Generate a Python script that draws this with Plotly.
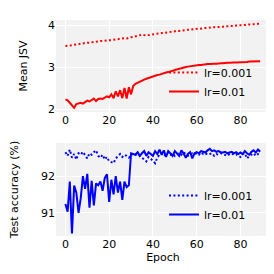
import plotly.graph_objects as go

epochs = list(range(90))

jsv_lr001 = [3.50, 3.50, 3.51, 3.52, 3.53, 3.54, 3.55, 3.55, 3.56, 3.57,
             3.58, 3.58, 3.59, 3.60, 3.60, 3.61, 3.62, 3.62, 3.63, 3.63,
             3.64, 3.64, 3.65, 3.66, 3.66, 3.67, 3.68, 3.69, 3.68, 3.70,
             3.71, 3.72, 3.73, 3.74, 3.75, 3.77, 3.76, 3.75, 3.76, 3.77,
             3.78, 3.78, 3.79, 3.80, 3.81, 3.81, 3.82, 3.83, 3.84, 3.84,
             3.85, 3.86, 3.86, 3.87, 3.88, 3.88, 3.89, 3.89, 3.90, 3.90,
             3.91, 3.91, 3.92, 3.92, 3.93, 3.93, 3.94, 3.94, 3.95, 3.95,
             3.95, 3.96, 3.96, 3.97, 3.97, 3.97, 3.98, 3.98, 3.99, 3.99,
             3.99, 4.00, 4.00, 4.01, 4.01, 4.01, 4.02, 4.02, 4.03, 4.03]

jsv_lr01 = [2.23, 2.21, 2.15, 2.10, 2.03, 2.12, 2.14, 2.15, 2.13, 2.16,
            2.20, 2.18, 2.22, 2.25, 2.19, 2.24, 2.25, 2.24, 2.27, 2.30,
            2.28, 2.35, 2.26, 2.42, 2.30, 2.45, 2.26, 2.50, 2.25, 2.52,
            2.35, 2.55, 2.60, 2.63, 2.66, 2.68, 2.70, 2.72, 2.74, 2.76,
            2.78, 2.79, 2.81, 2.82, 2.84, 2.85, 2.87, 2.88, 2.89, 2.91,
            2.93, 2.95, 2.96, 2.97, 2.99, 3.00, 3.01, 3.02, 3.03, 3.03,
            3.04, 3.05, 3.05, 3.06, 3.06, 3.07, 3.07, 3.08, 3.08, 3.08,
            3.09, 3.09, 3.09, 3.10, 3.10, 3.10, 3.11, 3.11, 3.11, 3.11,
            3.12, 3.12, 3.12, 3.12, 3.13, 3.13, 3.13, 3.13, 3.13, 3.14]

acc_lr001 = [92.65, 92.55, 92.72, 92.50, 92.60, 92.45, 92.62, 92.58, 92.66, 92.55,
             92.48, 92.62, 92.58, 92.65, 92.70, 92.55, 92.50, 92.58, 92.45, 92.52,
             92.40, 92.38, 92.35, 92.48, 92.55, 92.60, 92.52, 92.58, 92.55, 92.50,
             92.55, 92.62, 92.58, 92.60, 92.55, 92.50, 92.45, 92.40, 92.52, 92.48,
             92.42, 92.35, 92.50, 92.58, 92.62, 92.55, 92.60, 92.65, 92.58, 92.62,
             92.55, 92.60, 92.62, 92.58, 92.65, 92.60, 92.55, 92.58, 92.62, 92.60,
             92.62, 92.58, 92.65, 92.60, 92.62, 92.58, 92.60, 92.62, 92.55, 92.60,
             92.58, 92.62, 92.60, 92.58, 92.55, 92.60, 92.62, 92.58, 92.60, 92.55,
             92.52, 92.60, 92.62, 92.48, 92.55, 92.58, 92.62, 92.55, 92.60, 92.58]

acc_lr01 = [91.24, 91.03, 91.85, 90.44, 91.74, 91.55, 91.00, 91.40, 92.00, 91.65,
            92.06, 91.14, 91.87, 91.20, 91.80, 91.75, 91.85, 91.60, 91.95, 92.05,
            91.30, 91.90, 91.50, 92.00, 91.55, 91.85, 91.35, 91.85, 91.70, 91.75,
            92.62, 92.60, 92.58, 92.65, 92.55, 92.62, 92.68, 92.55, 92.65, 92.60,
            92.55, 92.68, 92.60, 92.72, 92.58, 92.70, 92.52, 92.68, 92.62, 92.55,
            92.68, 92.60, 92.55, 92.70, 92.62, 92.50, 92.60, 92.65, 92.48, 92.62,
            92.65, 92.62, 92.68, 92.66, 92.64, 92.70, 92.74, 92.68, 92.70, 92.66,
            92.68, 92.65, 92.64, 92.66, 92.62, 92.64, 92.66, 92.62, 92.65, 92.60,
            92.64, 92.60, 92.68, 92.62, 92.58, 92.66, 92.70, 92.64, 92.72, 92.66]

x_ticks = [0, 20, 40, 60, 80]
jsv_ticks = [2, 3, 4]
acc_ticks = [91, 92]

FONT = "DejaVu Sans"
BG = "#f2f2f2"
DOT = "2px,2.4px"

fig = go.Figure()
fig.add_trace(go.Scatter(x=epochs, y=jsv_lr001, mode="lines", name="lr=0.001",
                         line=dict(color="red", width=2, dash=DOT),
                         xaxis="x", yaxis="y", legend="legend"))
fig.add_trace(go.Scatter(x=epochs, y=jsv_lr01, mode="lines", name="lr=0.01",
                         line=dict(color="red", width=2),
                         xaxis="x", yaxis="y", legend="legend"))
fig.add_trace(go.Scatter(x=epochs, y=acc_lr001, mode="lines", name="lr=0.001",
                         line=dict(color="blue", width=2, dash=DOT),
                         xaxis="x2", yaxis="y2", legend="legend2"))
fig.add_trace(go.Scatter(x=epochs, y=acc_lr01, mode="lines", name="lr=0.01",
                         line=dict(color="blue", width=2),
                         xaxis="x2", yaxis="y2", legend="legend2"))

W = H = 274
xd = [48 / W, 262 / W]
ax_common = dict(showgrid=True, gridcolor="white", gridwidth=1, zeroline=False,
                 showline=False, ticks="", automargin=False,
                 tickfont=dict(family=FONT, size=11, color="black"))

fig.update_layout(
    width=W, height=H,
    margin=dict(l=0, r=0, t=0, b=0),
    paper_bgcolor="white", plot_bgcolor=BG,
    font=dict(family=FONT, size=11, color="black"),
    xaxis=dict(domain=xd, anchor="y", range=[-4.3, 93.5], tickvals=x_ticks, **ax_common),
    yaxis=dict(domain=[1 - 104 / H, 1 - 12 / H], anchor="x", range=[1.93, 4.12],
               tickvals=jsv_ticks, title=dict(text="Mean JSV", standoff=18,
                                              font=dict(family=FONT, size=11)),
               **ax_common),
    xaxis2=dict(domain=xd, anchor="y2", range=[-4.3, 93.5], tickvals=x_ticks,
                title=dict(text="Epoch", standoff=2, font=dict(family=FONT, size=11)),
                **ax_common),
    yaxis2=dict(domain=[1 - 228 / H, 1 - 135 / H], anchor="x2", range=[90.37, 92.9],
                tickvals=acc_ticks, title=dict(text="Test accuracy (%)", standoff=22,
                                               font=dict(family=FONT, size=11)),
                **ax_common),
    legend=dict(x=250 / W, y=1 - 50 / H, xanchor="right", yanchor="top",
                bgcolor="rgba(0,0,0,0)", font=dict(family=FONT, size=11),
                tracegroupgap=0, itemwidth=30),
    legend2=dict(x=250 / W, y=1 - 173 / H, xanchor="right", yanchor="top",
                 bgcolor="rgba(0,0,0,0)", font=dict(family=FONT, size=11),
                 tracegroupgap=0, itemwidth=30),
)

fig.write_html("out.html")
